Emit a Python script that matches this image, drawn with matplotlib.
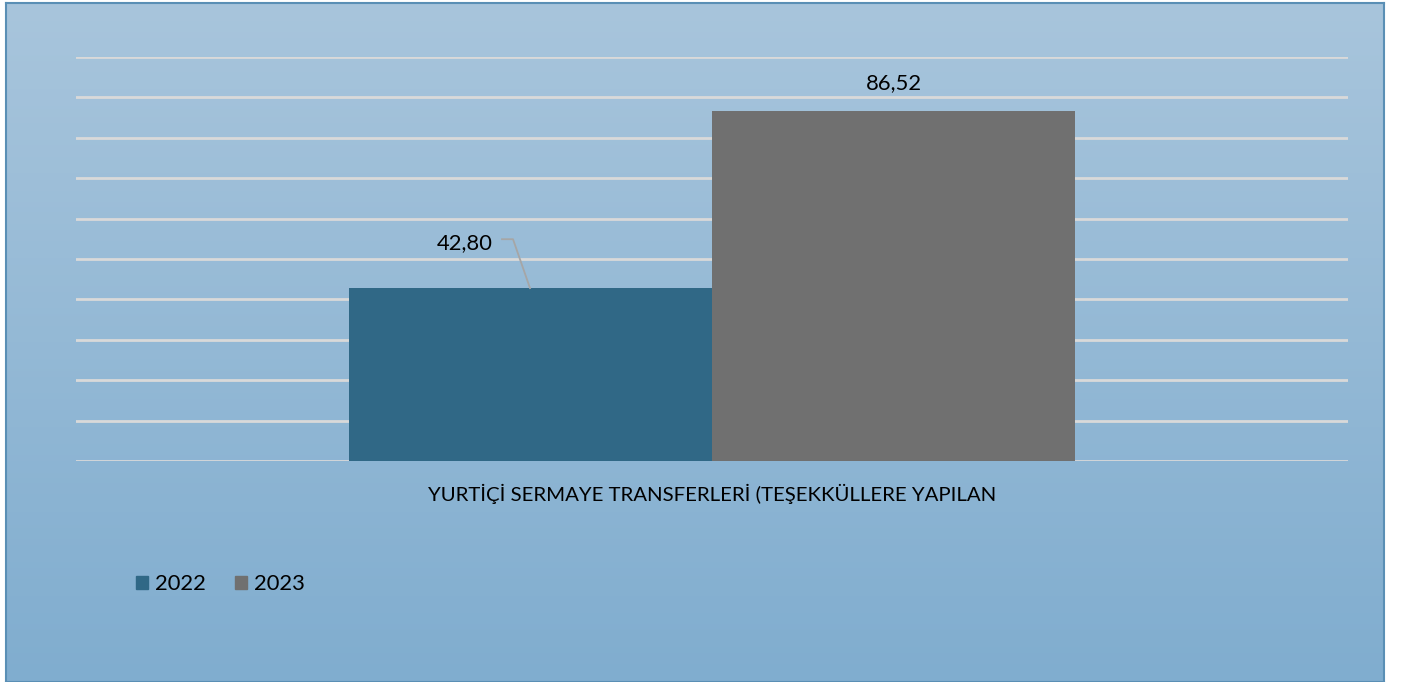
import numpy as np
import matplotlib
matplotlib.use("Agg")
import matplotlib.pyplot as plt
from matplotlib.patches import Rectangle

plt.rcParams['font.family'] = ['Lato', 'DejaVu Sans']

category = "YURTİÇİ SERMAYE TRANSFERLERİ (TEŞEKKÜLLERE YAPILAN"
series = ["2022", "2023"]
values = [42.80, 86.52]
labels = ["42,80", "86,52"]
colors = ["#306886", "#707070"]

W, H = 1402, 682
fig = plt.figure(figsize=(W / 100, H / 100), dpi=100)
fig.patch.set_facecolor("white")

# gradient background panel
bg = fig.add_axes([6 / W, 0, (1384 - 6) / W, (682 - 3) / H])
top = np.array([168, 197, 220]) / 255
bot = np.array([128, 173, 207]) / 255
t = np.linspace(0, 1, 256)[:, None]
grad = top[None, :] * (1 - t) + bot[None, :] * t
bg.imshow(grad[:, None, :].repeat(2, axis=1), aspect="auto", extent=[0, 1, 0, 1])
bg.set_xlim(0, 1); bg.set_ylim(0, 1)
bg.set_xticks([]); bg.set_yticks([])
for s in bg.spines.values():
    s.set_color("#5a8fb5"); s.set_linewidth(1.5)

ax = fig.add_axes([76 / W, (682 - 461) / H, 1272 / W, 404 / H])
ax.set_facecolor("none")
ax.set_xlim(-0.5, 0.5)
ax.set_ylim(0, 100)
ax.set_yticks(np.arange(0, 101, 10))
ax.yaxis.grid(True, color="#d9d9d9", linewidth=2)
ax.set_axisbelow(True)
ax.tick_params(left=False, labelleft=False, bottom=False, labelbottom=False)
for s in ax.spines.values():
    s.set_visible(False)

w = 363 / 1272
offsets = [-w / 2, w / 2]
for off, v, c in zip(offsets, values, colors):
    ax.bar(off, v, width=w, color=c, zorder=3)

# data labels
ax.annotate(labels[1], xy=(offsets[1], values[1]), xytext=(0, 13),
            textcoords="offset points", ha="center", va="bottom", fontsize=15.8, color="black")
lbl_x = (465 - 76) / 1272 - 0.5
ax.text(lbl_x, 54.0, labels[0], ha="center", va="center", fontsize=15.8, color="black", zorder=5)
x1 = (502 - 76) / 1272 - 0.5
x2 = (513 - 76) / 1272 - 0.5
x3 = (530 - 76) / 1272 - 0.5
ax.plot([x1, x2, x3], [54.9, 54.9, values[0]], color="#a6a6a6", linewidth=1.3, zorder=4, clip_on=False)

fig.text(712 / W, 1 - 494 / H, category, ha="center", va="center", fontsize=14.7, color="black")

# legend
handles = [Rectangle((0, 0), 1, 1, color=c) for c in colors]
leg = fig.legend(handles, series, loc="center left", bbox_to_anchor=(136 / W, 1 - 584 / H),
                 ncol=2, frameon=False, fontsize=15.8, handlelength=0.55, handleheight=0.55,
                 handletextpad=0.33, columnspacing=1.3, borderpad=0, borderaxespad=0)

fig.savefig("out.png", dpi=100)
